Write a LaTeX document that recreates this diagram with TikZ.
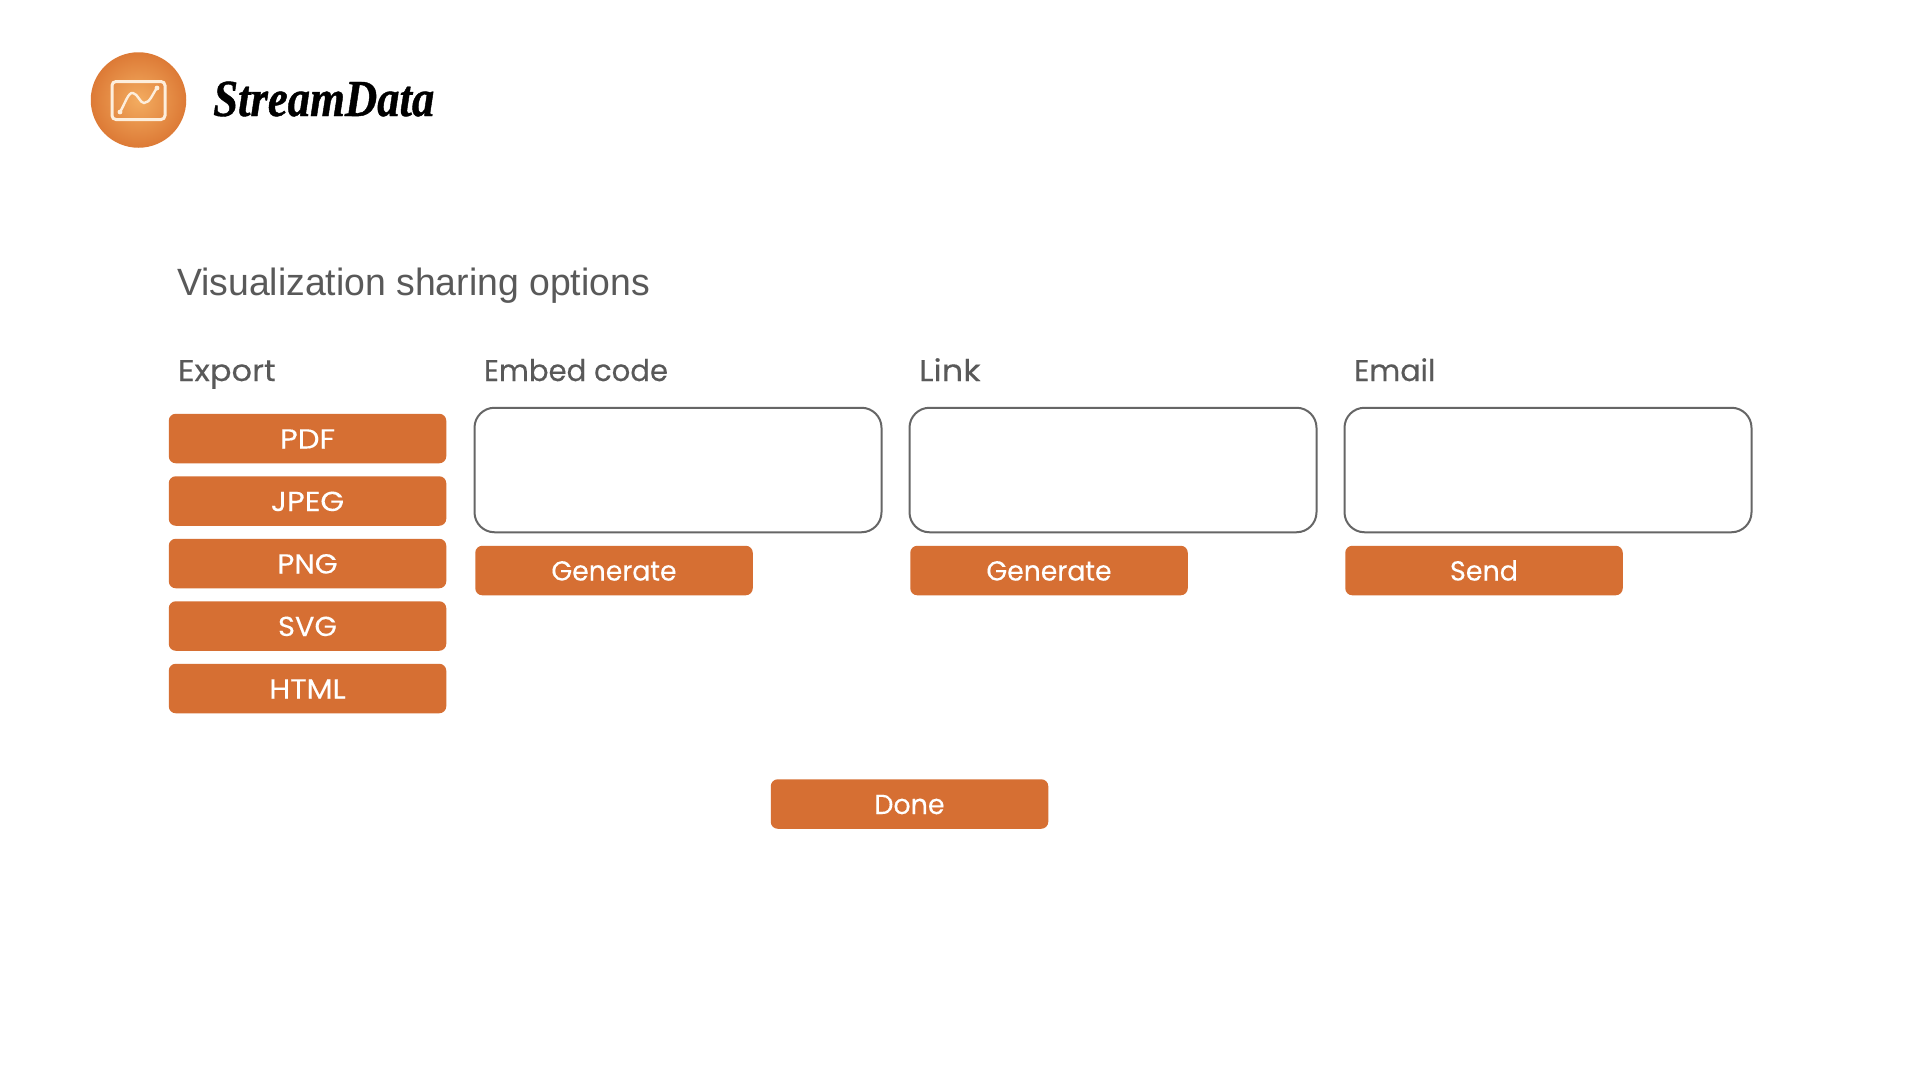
\documentclass[tikz,border=0pt]{standalone}
\usepackage{fontspec}
\setmainfont{Poppins}[FakeBold=0.25]
\newfontfamily\titlefont{Liberation Sans}[FakeStretch=0.983]
\newfontfamily\logofont{Liberation Serif}[BoldItalicFont={* Bold Italic},FakeStretch=0.86,FakeBold=0.8]
\newcommand\stw[2]{{\addfontfeature{FakeStretch=#1}#2}}
\definecolor{btn}{HTML}{D66F33}
\definecolor{lbl}{HTML}{595959}
\definecolor{box}{HTML}{666666}
\definecolor{lgin}{HTML}{F3AC60}
\definecolor{lgout}{HTML}{D9722F}
\definecolor{lgline}{HTML}{FDEEDC}
\pgfdeclareradialshading{logoshade}{\pgfpoint{0bp}{0bp}}{color(0bp)=(lgin); color(29bp)=(lgout); color(50bp)=(lgout)}
\tikzset{
  x=1pt,y=-1pt,
  btnbox/.style={draw=none,fill=btn,rounded corners=7pt,minimum width=277.5pt,minimum height=49.5pt,inner sep=0pt,outer sep=0pt,text=white,font=\fontsize{27.5}{32}\selectfont,text height=20pt,text depth=0pt},
  inbox/.style={draw=box,line width=2pt,fill=white,rounded corners=20pt,minimum width=407pt,minimum height=124.5pt,inner sep=0pt,outer sep=0pt},
  headlbl/.style={anchor=base west,inner sep=0pt,outer sep=0pt,text=lbl,font=\fontsize{30}{35}\selectfont},
}
\begin{document}
\begin{tikzpicture}
\useasboundingbox (0,0) rectangle (1920,1080);
\fill[white] (0,0) rectangle (1920,1080);
% logo
\node[circle,minimum size=95.5pt,inner sep=0pt,outer sep=0pt,shading=logoshade] (logo) at (138.5,100) {};
\node[draw=lgline,line width=3pt,rounded corners=4pt,minimum width=53pt,minimum height=38pt,inner sep=0pt] (chart) at (138.5,100.5) {};
\coordinate (c1) at (120,112);
\coordinate (c4) at (157,88);
\draw[lgline,line width=2.4pt,line cap=round] (c1) .. controls (125,104) and (128,92) .. (133,93) .. controls (138,94) and (140,103) .. (144,103) .. controls (150,103) and (153,93) .. (c4);
\fill[lgline] (c1) circle (2.4pt) (c4) circle (2.4pt);
\node[anchor=base west,inner sep=0pt,text=black] (brand) at (213,116) {\logofont\fontsize{52}{56}\selectfont\bfseries\itshape StreamData};
% title
\node[anchor=base west,inner sep=0pt,text=lbl] (title) at (177,295) {\titlefont\fontsize{38}{42}\selectfont Visualization sharing options};
% headings
\node[headlbl] (hexport) at (178,381) {\stw{1.07}{Export}};
\node[headlbl] (hembed) at (484,381) {\stw{0.97}{Embed code}};
\node[headlbl] (hlink) at (919,381) {\stw{1.12}{Link}};
\node[headlbl] (hemail) at (1354,381) {Email};
% export buttons
\node[btnbox] (pdf) at (307.5,438.5) {\stw{1.12}{PDF}};
\node[btnbox] (jpeg) at (307.5,501) {\stw{1.11}{JPEG}};
\node[btnbox] (png) at (307.5,563.5) {\stw{1.06}{PNG}};
\node[btnbox] (svg) at (307.5,626) {\stw{1.05}{SVG}};
\node[btnbox] (html) at (307.5,688.5) {\stw{1.1}{HTML}};
% input boxes
\node[inbox] (embed) at (678,470) {};
\node[inbox] (link) at (1113,470) {};
\node[inbox] (email) at (1548,470) {};
% action buttons
\node[btnbox] (gen1) at (614,570.5) {\stw{0.97}{Generate}};
\node[btnbox] (gen2) at (1049,570.5) {\stw{0.97}{Generate}};
\node[btnbox] (send) at (1484,570.5) {\stw{0.98}{Send}};
\node[btnbox] (done) at (909.5,804) {\stw{0.98}{Done}};
\end{tikzpicture}
\end{document}
